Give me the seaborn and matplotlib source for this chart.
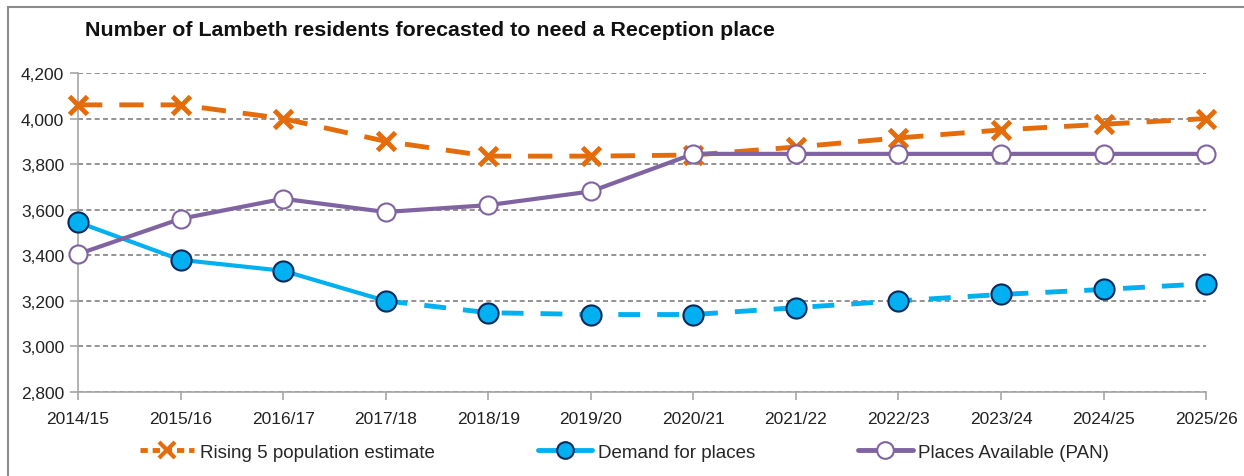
import matplotlib
matplotlib.use("Agg")
import matplotlib.pyplot as plt
from matplotlib.patches import Rectangle
from matplotlib.lines import Line2D
from matplotlib.ticker import FuncFormatter
import seaborn as sns
import pandas as pd

# --- data ---
years = ["2014/15", "2015/16", "2016/17", "2017/18", "2018/19", "2019/20",
         "2020/21", "2021/22", "2022/23", "2023/24", "2024/25", "2025/26"]
rising5 = [4060, 4060, 4000, 3900, 3835, 3835, 3840, 3875, 3915, 3950, 3975, 4000]
demand = [3545, 3380, 3332, 3200, 3148, 3140, 3140, 3170, 3200, 3228, 3250, 3275]
places = [3405, 3560, 3648, 3590, 3620, 3680, 3845, 3845, 3845, 3845, 3845, 3845]
last_actual = 3  # demand is solid up to 2017/18, projected after

orange = "#E46C0A"
blue = "#00B0F0"
navy = "#0B2A5B"
purple = "#8064A2"

df = pd.DataFrame({"idx": range(len(years)), "year": years,
                   "rising5": rising5, "demand": demand, "places": places})

sns.set_theme(style="white")
plt.rcParams["font.family"] = ["Liberation Sans", "DejaVu Sans"]

fig = plt.figure(figsize=(12.44, 4.77), dpi=100)
ax = fig.add_axes([0.0627, 0.1761, 0.9068, 0.6688])

# gridlines first so lines sit above them
ax.set_ylim(2800, 4200)
ax.set_yticks(range(2800, 4201, 200))
ax.yaxis.grid(True, linestyle=(0, (3, 2)), color="#808080", linewidth=1.2)
ax.set_axisbelow(True)

# Excel draws series in order: rising 5 at the bottom, PAN on top
sns.lineplot(data=df, x="idx", y="rising5", ax=ax, color=orange, linewidth=3.5,
             linestyle=(0, (5, 3.5)), marker="x", markersize=13,
             markeredgewidth=3.5, markeredgecolor=orange, zorder=3, clip_on=False)

act = df[df["idx"] <= last_actual]
proj = df[df["idx"] >= last_actual]
sns.lineplot(data=act, x="idx", y="demand", ax=ax, color=blue, linewidth=3, zorder=4)
sns.lineplot(data=proj, x="idx", y="demand", ax=ax, color=blue, linewidth=3.5,
             linestyle=(0, (4.5, 3.5)), zorder=4)
sns.scatterplot(data=df, x="idx", y="demand", ax=ax, color=blue, s=210,
                edgecolor=navy, linewidth=1.5, zorder=5, clip_on=False)

sns.lineplot(data=df, x="idx", y="places", ax=ax, color=purple, linewidth=3,
             marker="o", markersize=13, markerfacecolor="white",
             markeredgecolor=purple, markeredgewidth=1.5, zorder=6, clip_on=False)

ax.set_xlim(0, len(years) - 1)
ax.set_xticks(df["idx"])
ax.set_xticklabels(years)
ax.yaxis.set_major_formatter(FuncFormatter(lambda v, p: f"{int(v):,}"))
ax.set_xlabel("")
ax.set_ylabel("")

for side in ["top", "right"]:
    ax.spines[side].set_visible(False)
for side in ["left", "bottom"]:
    ax.spines[side].set_color("#A6A6A6")
    ax.spines[side].set_linewidth(1.2)
ax.tick_params(axis="both", which="both", direction="out", length=6,
               color="#A6A6A6", width=1.2, labelsize=12.5, labelcolor="#222222",
               left=True, bottom=True)
ax.tick_params(axis="x", pad=8)
ax.tick_params(axis="y", pad=4)

fig.text(0.068, 0.937, "Number of Lambeth residents forecasted to need a Reception place",
         fontsize=15.4, fontweight="bold", ha="left", va="center", color="#111111")

# frame round the chart area
fig.patches.append(Rectangle((8 / 1244, -0.02), 1.05, 1 - 8 / 477 + 0.02,
                             transform=fig.transFigure, fill=False,
                             edgecolor="#8C8C8C", linewidth=1.5))

handles = [
    Line2D([], [], color=orange, linewidth=3.5, linestyle=(0, (1.5, 1)), marker="x",
           markersize=11, markeredgewidth=3),
    Line2D([], [], color=blue, linewidth=3.5, marker="o", markersize=12,
           markerfacecolor=blue, markeredgecolor=navy, markeredgewidth=1.5),
    Line2D([], [], color=purple, linewidth=3.5, marker="o", markersize=12,
           markerfacecolor="white", markeredgecolor=purple, markeredgewidth=1.5),
]
labels = ["Rising 5 population estimate", "Demand for places", "Places Available (PAN)"]
fig.legend(handles, labels, loc="center", bbox_to_anchor=(0.502, 0.05), ncol=3,
           frameon=False, fontsize=13.5, handlelength=2.9, columnspacing=5.5,
           handletextpad=0.3)

fig.savefig("out.png", dpi=100)
